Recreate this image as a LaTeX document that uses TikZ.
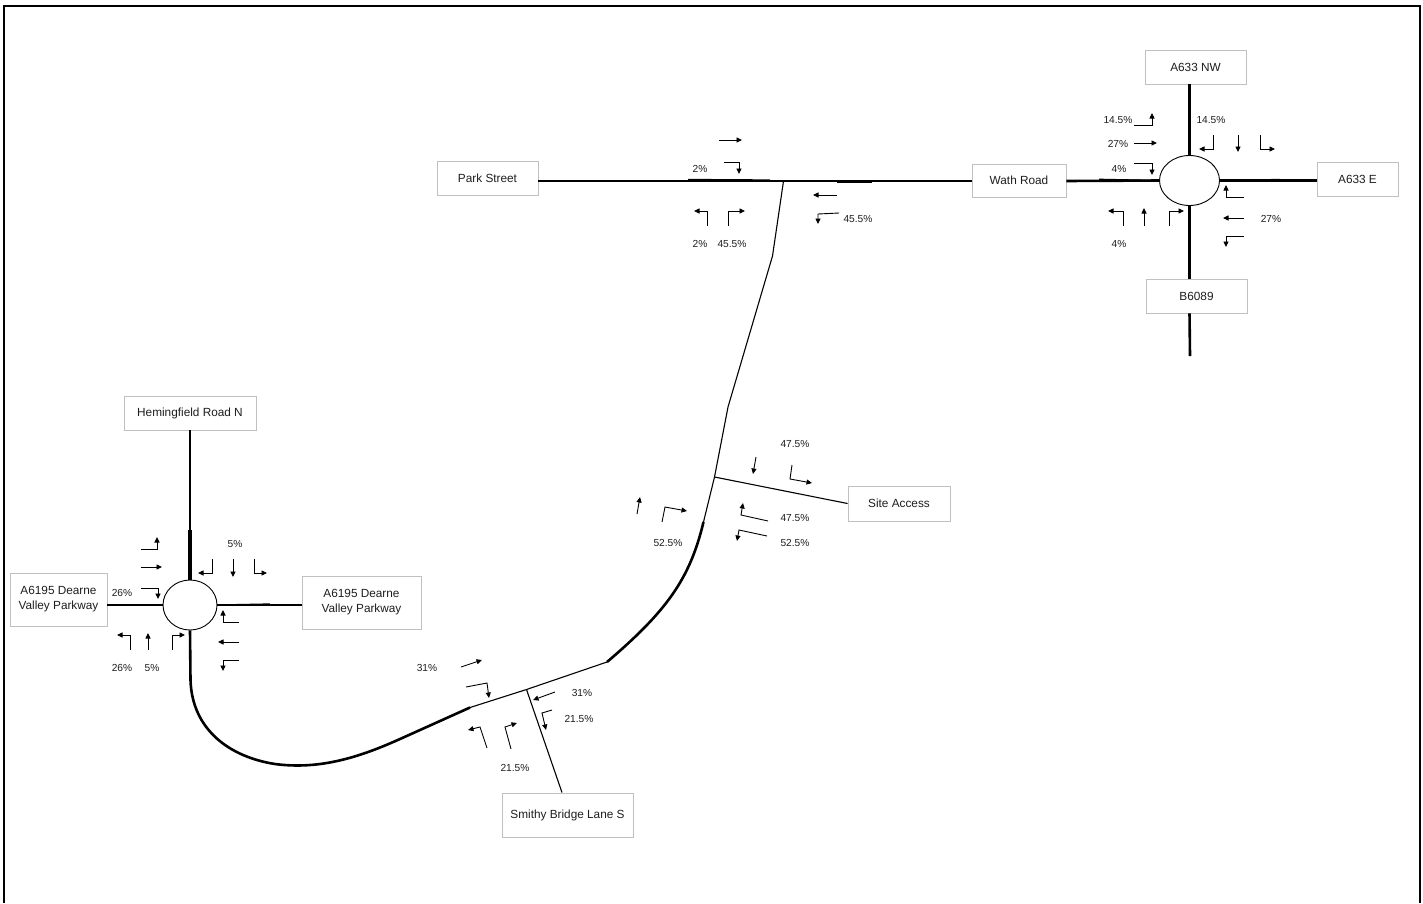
\documentclass[tikz,border=0pt]{standalone}
\usepackage{fontspec}
\setmainfont{Liberation Sans}
\usetikzlibrary{arrows.meta,shapes.geometric}
\definecolor{boxgray}{RGB}{192,192,192}
\definecolor{txt}{RGB}{30,30,30}
\begin{document}
\begin{tikzpicture}[x=1pt,y=-1pt,
 box/.style={draw=boxgray,line width=0.9pt,fill=white,inner sep=0pt,align=center,text=txt,font=\fontsize{11.8}{15}\selectfont},
 road/.style={line width=2.6pt},
 lane/.style={line width=1.3pt},
 thinroad/.style={line width=1.1pt},
 flow/.style={line width=0.9pt,-{Triangle[length=5.5pt,width=5pt]}},
 pct/.style={inner sep=0pt,text=txt,font=\fontsize{10.2}{12}\selectfont},
 rbt/.style={draw,ellipse,line width=0.9pt,inner sep=0pt,fill=white}]
\useasboundingbox (0,0) rectangle (1423,903);
% frame
\draw[line width=2pt] (4,903) -- (4,6) -- (1420,6) -- (1420,903);

% boxes
\node[box,minimum width=101pt,minimum height=34pt] (park) at (487.5,178) {Park Street};
\node[box,minimum width=94pt,minimum height=33pt] (wath) at (1019,180.5) {Wath Road};
\node[box,minimum width=101pt,minimum height=34pt] (nw) at (1195.5,67) {A633 NW};
\node[box,minimum width=81pt,minimum height=34pt] (ae) at (1357.5,179) {A633 E};
\node[box,minimum width=101pt,minimum height=34pt] (b6089) at (1196.5,296) {B6089};
\node[box,minimum width=132pt,minimum height=34pt] (hem) at (190,413) {Hemingfield Road N};
\node[box,minimum width=97pt,minimum height=53pt] (dvl) at (58.5,599.5) {A6195 Dearne\\Valley Parkway};
\node[box,minimum width=119pt,minimum height=53pt] (dvr) at (361.5,602.5) {A6195 Dearne\\Valley Parkway};
\node[box,minimum width=102pt,minimum height=35pt] (site) at (899,503.5) {Site Access};
\node[box,minimum width=131pt,minimum height=44pt] (smithy) at (567.5,815) {Smithy Bridge Lane S};

% roundabouts
\node[rbt,minimum width=60pt,minimum height=50pt] (rbT) at (1189.5,180.5) {};
\node[rbt,minimum width=54pt,minimum height=50pt] (rbL) at (190,605) {};

% junction coordinates
\coordinate (J1) at (783.5,181);
\coordinate (k1) at (772.5,256);
\coordinate (k2) at (728,407);
\coordinate (J2) at (714.5,477);
\coordinate (C1) at (703.5,522);
\coordinate (C2) at (607,662);
\coordinate (J3) at (526.5,689.5);
\coordinate (C3) at (470,707.5);
\coordinate (L1) at (190.5,680);
\coordinate (bEnd) at (1190,356);

% top roads
\draw[road] (park.east |- J1) -- (wath.west |- J1);
\draw[road] (wath.east |- J1) -- (rbT.west);
\draw[road] (rbT.east) -- (ae.west |- rbT.east);
\draw[road] (nw.south -| rbT.north) -- (rbT.north);
\draw[road] (rbT.south) -- (b6089.north -| rbT.south);
\draw[road] (b6089.south -| rbT.south) -- (bEnd);
\draw[lane] (1099,179.3) -- (rbT.west);
\draw[lane] (rbT.east) -- (1280,179.5);
\draw[line width=3.6pt] (rbT.south) -- (1189.5,253);
\draw[line width=0.9pt] (688,179.3) -- (770,179.8);
\draw[line width=0.9pt] (837,182) -- (872,182);

% left roads
\draw[road] (hem.south -| rbL.north) -- (rbL.north);
\draw[road] (dvl.east |- rbL.west) -- (rbL.west);
\draw[road] (rbL.east) -- (dvr.west |- rbL.east);
\draw[road] (rbL.south) -- (L1);
\draw[line width=3.6pt] (190,530) -- (rbL.north);
\draw[lane] (rbL.east) -- (270,604);

% link road
\draw[thinroad] (J1) -- (k1) -- (k2) -- (J2) -- (C1);
\draw[road] (C1) .. controls (690,578) and (668,610) .. (C2);
\draw[thinroad] (C2) -- (J3) -- (C3);
\draw[road] (C3) -- (400,739) .. controls (360,757) and (320,770) .. (275,764)
  .. controls (230,757) and (192,730) .. (L1);
\draw[thinroad] (J2) -- (site.west);
\draw[thinroad] (J3) -- ([xshift=-5.5pt]smithy.north);

% ---- flow arrows: top roundabout
\draw[flow] (1134,125) -- (1152,125) -- (1152,113);
\draw[flow] (1134,143) -- (1157,143);
\draw[flow] (1134,163) -- (1152,163) -- (1152,175);
\draw[flow] (1213,135) -- (1213,149) -- (1199,149);
\draw[flow] (1238,135) -- (1238,152);
\draw[flow] (1260,135) -- (1260,149) -- (1275,149);
\draw[flow] (1244,197) -- (1226,197) -- (1226,185);
\draw[flow] (1123,226) -- (1123,211) -- (1108,211);
\draw[flow] (1144,226) -- (1144,208);
\draw[flow] (1169,226) -- (1169,211) -- (1184,211);
\draw[flow] (1244,218) -- (1223,218);
\draw[flow] (1244,236) -- (1226,236) -- (1226,247);
\node[pct] (t1) at (1118,120) {14.5\%};
\node[pct] (t2) at (1118,144) {27\%};
\node[pct] (t3) at (1119,169) {4\%};
\node[pct] (t4) at (1211,120) {14.5\%};
\node[pct] (t5) at (1119,244) {4\%};
\node[pct] (t6) at (1271,219) {27\%};

% ---- Park Street junction
\draw[flow] (719,140) -- (742,140);
\draw[flow] (724,162) -- (739,162) -- (739,174);
\draw[flow] (707,226) -- (707,211) -- (694,211);
\draw[flow] (728,226) -- (728,211) -- (745,211);
\draw[flow] (837,195) -- (813,195);
\draw[flow] (839,213) -- (818,214) -- (818,224);
\node[pct] (p1) at (700,169) {2\%};
\node[pct] (p2) at (700,244) {2\%};
\node[pct] (p3) at (732,244) {45.5\%};
\node[pct] (p4) at (858,219) {45.5\%};

% ---- Site access
\draw[flow] (756,457) -- (753,474);
\draw[flow] (792,465) -- (790,479) -- (812,483);
\draw[flow] (768,521) -- (741,515) -- (743,503);
\draw[flow] (767,536) -- (739,530) -- (737,541);
\draw[flow] (637,514) -- (640,497);
\draw[flow] (662,522) -- (665,507) -- (687,511);
\node[pct] (s1) at (795,444) {47.5\%};
\node[pct] (s2) at (795,518) {47.5\%};
\node[pct] (s3) at (795,543) {52.5\%};
\node[pct] (s4) at (668,543) {52.5\%};

% ---- Left roundabout
\draw[flow] (141,549) -- (157,549) -- (157,537);
\draw[flow] (141,567) -- (162,567);
\draw[flow] (212,559) -- (212,573) -- (198,573);
\draw[flow] (233,559) -- (233,577);
\draw[flow] (254,559) -- (254,573) -- (267,573);
\draw[flow] (141,588) -- (158,588) -- (158,599);
\draw[flow] (130,650) -- (130,635) -- (117,635);
\draw[flow] (148,650) -- (148,633);
\draw[flow] (172,650) -- (172,635) -- (185,635);
\draw[flow] (239,622) -- (223,622) -- (223,610);
\draw[flow] (239,642) -- (218,642);
\draw[flow] (239,660) -- (223,660) -- (223,671);
\node[pct] (l1) at (235,544) {5\%};
\node[pct] (l2) at (122,593) {26\%};
\node[pct] (l3) at (122,668) {26\%};
\node[pct] (l4) at (152,668) {5\%};

% ---- Smithy Bridge junction
\draw[flow] (461,667) -- (482,660);
\draw[flow] (466,687) -- (487,683) -- (489,698);
\draw[flow] (555,692) -- (533,700);
\draw[flow] (552,710) -- (542,713) -- (546,730);
\draw[flow] (487,748) -- (480,727) -- (468,730);
\draw[flow] (511,749) -- (505,727) -- (517,723);
\node[pct] (b1) at (427,668) {31\%};
\node[pct] (b2) at (582,693) {31\%};
\node[pct] (b3) at (579,719) {21.5\%};
\node[pct] (b4) at (515,768) {21.5\%};
\end{tikzpicture}
\end{document}
